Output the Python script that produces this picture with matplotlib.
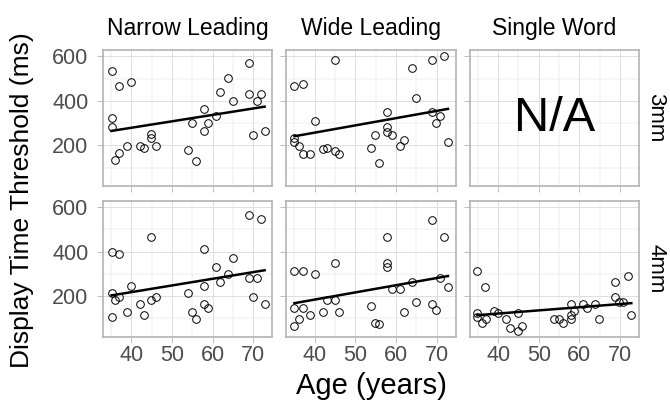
import numpy as np
import matplotlib
matplotlib.use("Agg")
import matplotlib.pyplot as plt

plt.rcParams['font.family'] = ['Liberation Sans', 'DejaVu Sans']

columns = ["Narrow Leading", "Wide Leading", "Single Word"]
rows = ["3mm", "4mm"]

narrow_3_age = [35.1, 37.0, 40.0, 35.1, 35.1, 39.0, 37.0, 36.0, 42.0, 43.0, 44.9, 44.9, 46.0,
                54.0, 55.0, 55.9, 57.9, 57.9, 58.9, 60.9, 61.9, 63.9, 64.9, 68.9, 68.9, 69.9,
                70.9, 71.9, 72.8]
narrow_3_val = [534, 466, 483, 324, 281, 197, 165, 132, 197, 188, 250, 231, 197,
                181, 299, 131, 365, 265, 299, 331, 441, 501, 399, 569, 432, 247,
                399, 432, 265]

wide_3_age = [44.9, 35.0, 37.0, 40.0, 35.0, 35.0, 36.0, 37.0, 38.9, 42.0, 43.0, 44.9, 45.9,
              53.9, 54.9, 55.9, 57.9, 57.9, 57.9, 59.0, 60.9, 61.9, 63.9, 64.9, 68.9, 68.9,
              69.9, 70.9, 71.9, 72.8]
wide_3_val = [584, 467, 476, 308, 232, 215, 197, 163, 163, 182, 190, 173, 163,
              190, 247, 122, 349, 283, 259, 247, 197, 224, 550, 415, 584, 349,
              299, 331, 601, 215]

narrow_4_age = [68.9, 71.9, 44.9, 35.1, 37.0, 57.9, 64.9, 60.9, 63.9, 61.9, 68.9, 70.9, 40.0,
                35.1, 37.0, 36.0, 44.9, 46.0, 42.0, 39.0, 43.0, 35.1, 54.0, 55.0, 55.9, 57.9,
                57.9, 58.9, 69.9, 72.8]
narrow_4_val = [563, 547, 464, 396, 389, 412, 371, 330, 297, 265, 281, 281, 247,
                213, 197, 180, 180, 197, 163, 130, 114, 106, 213, 130, 97, 247,
                163, 147, 197, 163]

wide_4_age = [68.9, 71.9, 57.9, 57.9, 57.9, 35.0, 37.0, 44.9, 40.0, 63.9, 70.9, 72.8, 59.0,
              60.9, 43.0, 44.9, 35.0, 37.0, 36.0, 35.0, 38.9, 42.0, 45.9, 53.9, 54.9, 55.9,
              61.9, 64.9, 68.9, 69.9]
wide_4_val = [540, 464, 464, 348, 330, 314, 314, 348, 297, 265, 281, 240, 231,
              231, 181, 181, 147, 147, 97, 65, 114, 130, 130, 156, 81, 73,
              130, 172, 165, 139]

single_4_age = [34.9, 36.8, 68.7, 71.9, 68.7, 34.9, 34.9, 36.0, 37.0, 38.9, 40.0, 41.9, 42.9,
                44.8, 45.8, 44.8, 53.8, 54.9, 55.9, 57.9, 57.9, 57.9, 58.8, 60.8, 61.8, 63.9,
                64.9, 69.8, 70.8, 72.8]
single_4_val = [314, 240, 265, 289, 197, 122, 106, 81, 97, 131, 122, 97, 56,
                45, 65, 122, 97, 97, 81, 114, 97, 163, 131, 163, 147, 163,
                97, 172, 172, 114]

# fitted lines: (age_start, value_start, age_end, value_end)
fit_narrow_3 = [35.1, 265, 72.8, 374]
fit_wide_3 = [35.0, 241, 72.8, 364]
fit_narrow_4 = [35.1, 203, 72.8, 316]
fit_wide_4 = [35.0, 168, 72.8, 290]
fit_single_4 = [34.9, 114, 72.8, 168]

panels = {
    (0, 0): (narrow_3_age, narrow_3_val, fit_narrow_3),
    (0, 1): (wide_3_age, wide_3_val, fit_wide_3),
    (1, 0): (narrow_4_age, narrow_4_val, fit_narrow_4),
    (1, 1): (wide_4_age, wide_4_val, fit_wide_4),
    (1, 2): (single_4_age, single_4_val, fit_single_4),
}

x_ticks = [40, 50, 60, 70]
y_ticks = [200, 400, 600]

all_age = np.concatenate([np.array(v[0]) for v in panels.values()])
all_val = np.concatenate([np.array(v[1]) for v in panels.values()])
xr = all_age.max() - all_age.min()
yr = all_val.max() - all_val.min()
xlim = (all_age.min() - 0.05 * xr, all_age.max() + 0.05 * xr)
ylim = (all_val.min() - 0.05 * yr, all_val.max() + 0.05 * yr)

fig, axes = plt.subplots(2, 3, figsize=(6.7, 4.12), dpi=100, sharex=True, sharey=True)
fig.subplots_adjust(left=103/670, right=639/670, top=1-50/412, bottom=1-336.7/412,
                    wspace=0.083, hspace=0.108)

border = "#B3B3B3"
gridc = "#DEDEDE"
for r in range(2):
    for c in range(3):
        ax = axes[r, c]
        ax.set_xlim(*xlim)
        ax.set_ylim(*ylim)
        ax.set_xticks(x_ticks)
        ax.set_yticks(y_ticks)
        ax.set_xticks([35, 45, 55, 65], minor=True)
        ax.set_yticks([100, 300, 500], minor=True)
        ax.grid(True, which='major', color=gridc, linewidth=0.7)
        ax.grid(True, which='minor', color=gridc, linewidth=0.35)
        ax.set_axisbelow(True)
        for s in ax.spines.values():
            s.set_color(border)
            s.set_linewidth(1.2)
        ax.tick_params(which='major', length=4.5, width=0.6, color=border,
                       labelsize=15.5, labelcolor="#4D4D4D")
        ax.tick_params(axis='y', which='major', pad=6)
        ax.tick_params(axis='x', which='major', pad=1.5)
        ax.tick_params(which='minor', length=0)
        if (r, c) in panels:
            a, v, f = panels[(r, c)]
            ax.plot(a, v, 'o', markerfacecolor='none', markeredgecolor='black',
                    markersize=5.5, markeredgewidth=0.7, zorder=3)
            ax.plot([f[0], f[2]], [f[1], f[3]], color='black', linewidth=1.8, zorder=4)
        if r == 0:
            ax.set_title(columns[c], fontsize=16.5, pad=11)
        if c == 2:
            ax.text(1.1, 0.5, rows[r], transform=ax.transAxes, rotation=-90,
                    fontsize=16, va='center', ha='center')

axes[0, 2].text(0.5, 0.5, "N/A", transform=axes[0, 2].transAxes, fontsize=35,
                ha='center', va='center')

fig.text((103 + 639) / 2 / 670, 0.03, "Age (years)", ha='center', va='bottom', fontsize=21)
fig.text(0.015, 1 - 200/412, "Display Time Threshold (ms)",
         rotation=90, ha='left', va='center', fontsize=19)

fig.savefig("out.png", dpi=100)
